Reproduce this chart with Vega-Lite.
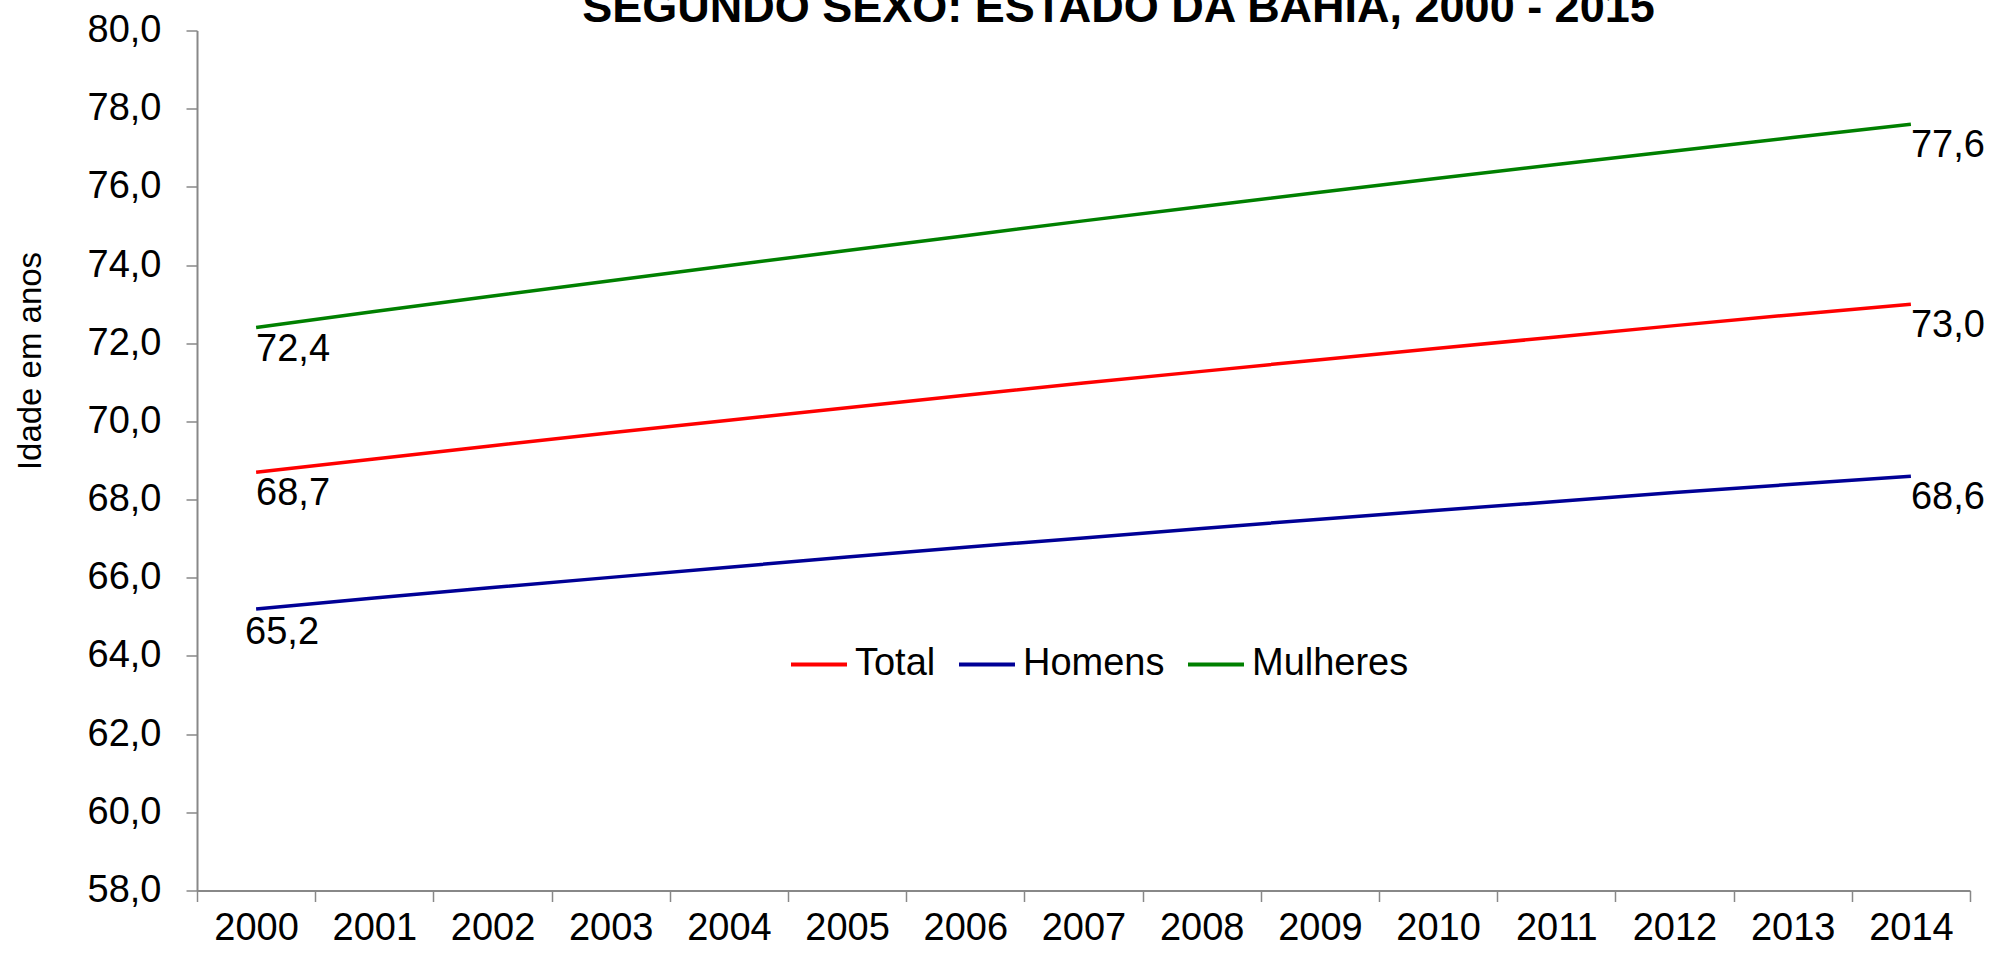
{
  "$schema": "https://vega.github.io/schema/vega-lite/v6.json",
  "autosize": {"type": "none"},
  "width": 1773,
  "height": 860,
  "padding": {"left": 197, "top": 30.5, "right": 25, "bottom": 63.4},
  "background": "#ffffff",
  "title": {
    "text": "SEGUNDO SEXO: ESTADO DA BAHIA, 2000 - 2015",
    "font": "Liberation Sans",
    "fontSize": 45,
    "fontWeight": "bold",
    "color": "#000000",
    "anchor": "middle",
    "baseline": "alphabetic",
    "offset": 0,
    "dy": 56,
    "dx": 35
  },
  "data": {
    "values": [
      {"year": "2000", "serie": "Total", "value": 68.7},
      {"year": "2001", "serie": "Total", "value": 69.04},
      {"year": "2002", "serie": "Total", "value": 69.38},
      {"year": "2003", "serie": "Total", "value": 69.71},
      {"year": "2004", "serie": "Total", "value": 70.03},
      {"year": "2005", "serie": "Total", "value": 70.35},
      {"year": "2006", "serie": "Total", "value": 70.67},
      {"year": "2007", "serie": "Total", "value": 70.98},
      {"year": "2008", "serie": "Total", "value": 71.28},
      {"year": "2009", "serie": "Total", "value": 71.58},
      {"year": "2010", "serie": "Total", "value": 71.87},
      {"year": "2011", "serie": "Total", "value": 72.16},
      {"year": "2012", "serie": "Total", "value": 72.45},
      {"year": "2013", "serie": "Total", "value": 72.73},
      {"year": "2014", "serie": "Total", "value": 73.0},
      {"year": "2000", "serie": "Homens", "value": 65.2},
      {"year": "2001", "serie": "Homens", "value": 65.48},
      {"year": "2002", "serie": "Homens", "value": 65.75},
      {"year": "2003", "serie": "Homens", "value": 66.01},
      {"year": "2004", "serie": "Homens", "value": 66.27},
      {"year": "2005", "serie": "Homens", "value": 66.53},
      {"year": "2006", "serie": "Homens", "value": 66.78},
      {"year": "2007", "serie": "Homens", "value": 67.02},
      {"year": "2008", "serie": "Homens", "value": 67.26},
      {"year": "2009", "serie": "Homens", "value": 67.5},
      {"year": "2010", "serie": "Homens", "value": 67.73},
      {"year": "2011", "serie": "Homens", "value": 67.95},
      {"year": "2012", "serie": "Homens", "value": 68.18},
      {"year": "2013", "serie": "Homens", "value": 68.39},
      {"year": "2014", "serie": "Homens", "value": 68.6},
      {"year": "2000", "serie": "Mulheres", "value": 72.4},
      {"year": "2001", "serie": "Mulheres", "value": 72.81},
      {"year": "2002", "serie": "Mulheres", "value": 73.21},
      {"year": "2003", "serie": "Mulheres", "value": 73.6},
      {"year": "2004", "serie": "Mulheres", "value": 73.99},
      {"year": "2005", "serie": "Mulheres", "value": 74.37},
      {"year": "2006", "serie": "Mulheres", "value": 74.75},
      {"year": "2007", "serie": "Mulheres", "value": 75.13},
      {"year": "2008", "serie": "Mulheres", "value": 75.5},
      {"year": "2009", "serie": "Mulheres", "value": 75.86},
      {"year": "2010", "serie": "Mulheres", "value": 76.22},
      {"year": "2011", "serie": "Mulheres", "value": 76.57},
      {"year": "2012", "serie": "Mulheres", "value": 76.92},
      {"year": "2013", "serie": "Mulheres", "value": 77.26},
      {"year": "2014", "serie": "Mulheres", "value": 77.6}
    ]
  },
  "encoding": {
    "x": {
      "field": "year",
      "type": "ordinal",
      "scale": {"type": "band", "paddingInner": 0, "paddingOuter": 0},
      "axis": {
        "title": null,
        "labelAngle": 0,
        "labelFont": "Liberation Sans",
        "labelFontSize": 38,
        "labelColor": "#000000",
        "labelPadding": 8,
        "tickBand": "extent",
        "tickSize": 11,
        "tickColor": "#888888",
        "tickWidth": 1.5,
        "domainColor": "#888888",
        "domainWidth": 2,
        "grid": false
      }
    },
    "y": {
      "field": "value",
      "type": "quantitative",
      "scale": {"domain": [58, 80], "nice": false, "zero": false},
      "axis": {
        "title": "Idade em anos",
        "titleFont": "Liberation Sans",
        "titleFontSize": 33,
        "titleFontWeight": "normal",
        "titleColor": "#000000",
        "titleAngle": -90,
        "titleAlign": "center",
        "titleBaseline": "middle",
        "titleX": -167,
        "titleY": 330,
        "values": [58, 60, 62, 64, 66, 68, 70, 72, 74, 76, 78, 80],
        "labelExpr": "replace(format(datum.value, '.1f'), '.', ',')",
        "labelFont": "Liberation Sans",
        "labelFontSize": 38,
        "labelColor": "#000000",
        "labelPadding": 25,
        "tickSize": 11,
        "tickColor": "#888888",
        "tickWidth": 1.5,
        "domainColor": "#888888",
        "domainWidth": 2,
        "grid": false
      }
    }
  },
  "layer": [
    {
      "mark": {"type": "line", "strokeWidth": 3.5},
      "encoding": {
        "color": {
          "field": "serie",
          "type": "nominal",
          "scale": {"domain": ["Total", "Homens", "Mulheres"], "range": ["#ff0000", "#000096", "#008000"]},
          "legend": {
            "title": null,
            "orient": "none",
            "direction": "horizontal",
            "legendX": 592,
            "legendY": 604,
            "padding": 0,
            "symbolType": "stroke",
            "symbolSize": 3136,
            "symbolStrokeWidth": 4,
            "labelFont": "Liberation Sans",
            "labelFontSize": 38,
            "labelColor": "#000000",
            "labelOffset": 6,
            "columnPadding": 15
          }
        }
      }
    },
    {
      "transform": [
        {"filter": "(datum.year == '2000' && datum.serie != 'Homens') || datum.year == '2014'"},
        {"calculate": "replace(format(datum.value, '.1f'), '.', ',')", "as": "lbl"}
      ],
      "mark": {"type": "text", "align": "left", "baseline": "alphabetic", "dy": 33, "dx": 0, "font": "Liberation Sans", "fontSize": 38, "color": "#000000"},
      "encoding": {"text": {"field": "lbl"}}
    },
    {
      "transform": [
        {"filter": "datum.year == '2000' && datum.serie == 'Homens'"},
        {"calculate": "replace(format(datum.value, '.1f'), '.', ',')", "as": "lbl"}
      ],
      "mark": {"type": "text", "align": "left", "baseline": "alphabetic", "dy": 35, "dx": -11, "font": "Liberation Sans", "fontSize": 38, "color": "#000000"},
      "encoding": {"text": {"field": "lbl"}}
    }
  ],
  "config": {"view": {"stroke": null}}
}
